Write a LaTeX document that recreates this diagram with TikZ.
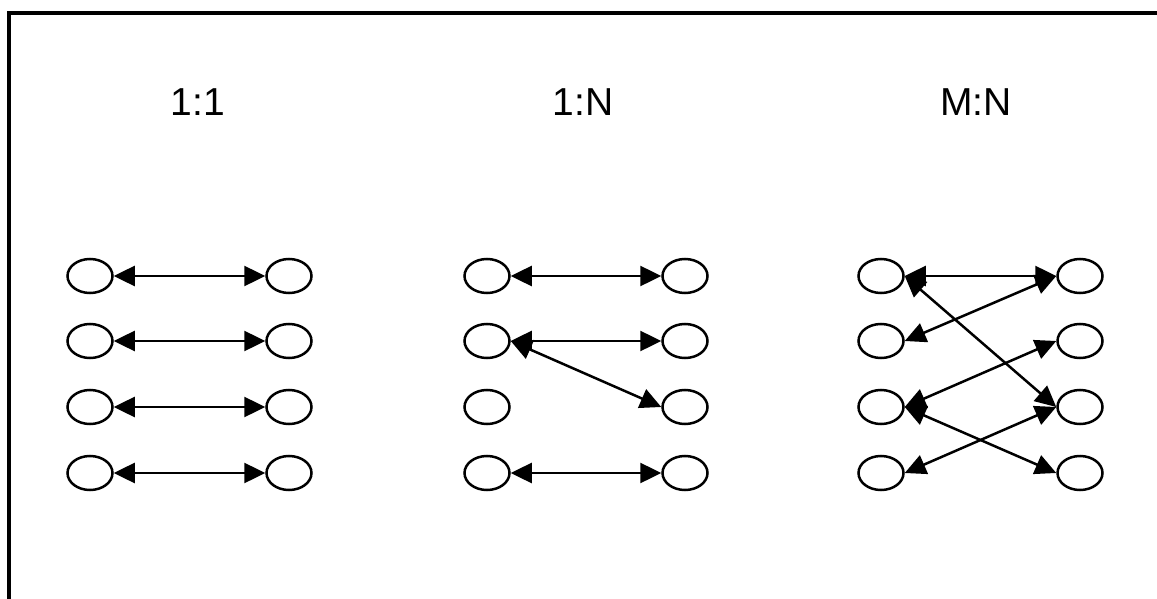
\documentclass[tikz,border=0pt]{standalone}
\usepackage{fontspec}
\setmainfont{Liberation Sans}
\usetikzlibrary{arrows.meta,shapes.geometric}
\begin{document}
\begin{tikzpicture}[x=1pt,y=-1pt,
  item/.style={draw,line width=2.5pt,ellipse,minimum width=45pt,minimum height=34pt,inner sep=0pt},
  link/.style={line width=2.5pt,{Triangle[length=21pt,width=20pt]}-{Triangle[length=21pt,width=20pt]}},
  title/.style={font=\fontsize{39}{41}\selectfont,anchor=base}]
\useasboundingbox (0,0) rectangle (1157,599);
\clip (0,0) rectangle (1157,599);
\fill[white] (0,0) rectangle (1157,599);
% open frame: top and left edges
\draw[line width=4.5pt] (9,605) -- (9,13) -- (1165,13);

% column titles
\node[title] (t1) at (198,116) {1:1};
\node[title] (t2) at (583,116) {1:N};
\node[title] (t3) at (976,116) {M:N};

% nodes of the three columns
\foreach \r/\y in {1/276,2/341,3/407,4/473}{
  \node[item] (a\r) at (90,\y) {};
  \node[item] (b\r) at (289,\y) {};
  \node[item] (c\r) at (487,\y) {};
  \node[item] (d\r) at (685,\y) {};
  \node[item] (e\r) at (881,\y) {};
  \node[item] (f\r) at (1080,\y) {};
}

% 1:1
\foreach \r in {1,2,3,4}{ \draw[link] (a\r.east) -- (b\r.west); }

% 1:N
\draw[link] (c1.east) -- (d1.west);
\draw[link] (c2.east) -- (d2.west);
\draw[link] (c2.east) -- (d3.west);
\draw[link] (c4.east) -- (d4.west);

% M:N
\draw[link] (e1.east) -- (f1.west);
\draw[link] (e1.east) -- (f3.west);
\draw[link] (e2.east) -- (f1.west);
\draw[link] (e3.east) -- (f2.west);
\draw[link] (e3.east) -- (f4.west);
\draw[link] (e4.east) -- (f3.west);
\end{tikzpicture}
\end{document}
